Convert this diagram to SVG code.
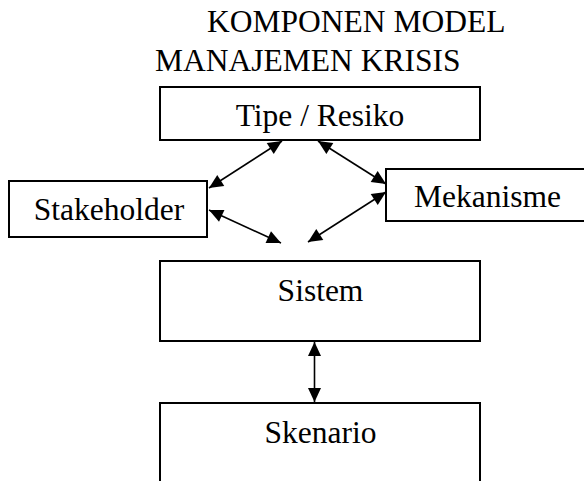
<svg xmlns="http://www.w3.org/2000/svg" width="584" height="481" viewBox="0 0 584 481">
<style>
  .box { fill: #fff; stroke: #000; stroke-width: 2; }
  .lbl { font-family: "Liberation Serif", "Times New Roman", serif; font-size: 31.5px; fill: #000; }
  .mid { text-anchor: middle; }
  .con { stroke: #000; stroke-width: 1.6; fill: none; marker-start: url(#ah); marker-end: url(#ah); }
</style>
<defs>
  <marker id="ah" markerUnits="userSpaceOnUse" markerWidth="16" markerHeight="16" viewBox="-15 -8 16 16" refX="0" refY="0" orient="auto-start-reverse">
    <path d="M0,0 L-14,-6.5 L-14,6.5 Z" fill="#000"/>
  </marker>
</defs>
<rect width="584" height="481" fill="#fff"/>
<g id="title">
  <text class="lbl" x="207" y="32">KOMPONEN MODEL</text>
  <text class="lbl" x="155" y="71">MANAJEMEN KRISIS</text>
</g>
<g id="tipe">
  <rect class="box" x="160" y="87" width="320" height="53"/>
  <text class="lbl mid" x="320" y="126">Tipe / Resiko</text>
</g>
<g id="stakeholder">
  <rect class="box" x="9" y="181" width="198" height="56"/>
  <text class="lbl mid" x="109" y="220">Stakeholder</text>
</g>
<g id="mekanisme">
  <rect class="box" x="386" y="169" width="220" height="52"/>
  <text class="lbl mid" x="487.5" y="207">Mekanisme</text>
</g>
<g id="sistem">
  <rect class="box" x="160" y="261" width="320" height="80"/>
  <text class="lbl mid" x="320.5" y="301">Sistem</text>
</g>
<g id="skenario">
  <rect class="box" x="160" y="403" width="320" height="100"/>
  <text class="lbl mid" x="320.5" y="443">Skenario</text>
</g>
<g id="connectors">
  <line class="con" x1="282" y1="141" x2="209" y2="188"/>
  <line class="con" x1="318" y1="141" x2="386" y2="184"/>
  <line class="con" x1="209" y1="210" x2="281" y2="243"/>
  <line class="con" x1="386" y1="192" x2="308" y2="242"/>
  <line class="con" x1="314.5" y1="342" x2="314.5" y2="402"/>
</g>
</svg>
